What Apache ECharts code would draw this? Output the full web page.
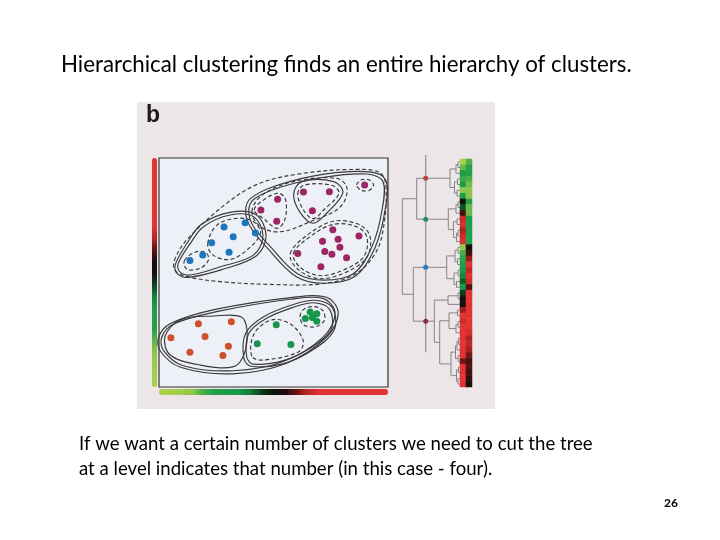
<!DOCTYPE html>
<html>
<head>
<meta charset="utf-8">
<script src="https://cdn.jsdelivr.net/npm/echarts@6/dist/echarts.min.js"></script>
<style>
html, body { margin: 0; padding: 0; background: #fff; }
#main { width: 720px; height: 540px; }
</style>
</head>
<body>
<div id="main"></div>
<script>
// scatter points, both features on a 0-100 scale
var orangePts = [[5.2,21.5],[17.2,27.6],[31.6,28.5],[20.1,22.0],[30.3,17.8],[13.5,15.2],[27.9,13.8]];
var greenPts = [[51.2,27.2],[42.9,18.9],[57.6,18.6],[66.0,32.8],[68.9,32.0],[63.9,29.9],[67.0,30.3],[68.9,28.7]];
var bluePts = [[13.5,55.2],[19.1,57.6],[23.0,63.0],[28.4,69.9],[32.4,65.6],[37.6,71.7],[42.1,67.2],[30.6,58.8]];
var purplePts = [[44.5,77.3],[51.8,82.0],[51.4,72.4],[63.1,85.1],[74.4,85.3],[67.0,77.0],[89.8,88.2],
  [75.9,68.7],[78.2,64.5],[87.3,65.9],[71.4,63.7],[79.0,61.0],[60.6,58.3],[72.4,59.2],[75.5,58.0],[81.9,56.4],[70.7,52.5]];

// cluster boundaries (same data units)
var ringTopAll = [[6.7,55.2],[12.1,64.2],[29.5,80.2],[44.1,89.0],[63.0,93.3],[84.9,95.0],[96.5,93.6],[99.1,87.5],
  [98.1,70.0],[94.5,58.4],[85.0,48.9],[70.5,45.0],[48.6,44.8],[26.8,46.0],[12.2,48.2],[7.1,50.8]];
var ringBlue = [[8.4,54.0],[13.7,62.7],[19.4,70.0],[31.0,75.1],[41.2,74.4],[45.4,66.0],[41.2,57.6],[26.8,52.5],[13.7,48.9],[9.0,50.4]];
var ringBlueBig = [[21.3,62.7],[25.3,70.7],[34.1,73.7],[41.3,72.2],[44.3,67.1],[38.4,59.8],[31.1,55.7],[23.6,57.6]];
var ringBlueSmall = [[11.1,55.2],[16.4,59.1],[20.8,58.4],[21.5,55.2],[17.9,51.8],[12.2,51.4]];
var ringPurpleOne = [[86.3,88.2],[88.2,90.4],[91.8,90.4],[93.7,88.2],[91.8,85.9],[88.2,85.9]];
var ringPurpleA = [[41.6,77.3],[45.7,81.7],[52.3,84.6],[55.3,81.7],[54.9,72.9],[51.5,69.3],[46.4,72.9]];
var ringPurpleB = [[60.6,84.3],[63.2,88.1],[75.4,88.1],[78.6,84.6],[71.9,77.3],[67.2,73.5],[62.9,77.6]];
var ringPurpleBOuter = [[58.8,84.3],[62.4,89.7],[76.3,89.7],[80.3,84.9],[73.4,76.1],[67.2,71.5],[61.4,76.6]];
var ringPurpleAB = [[40.6,76.6],[45.0,83.8],[58.8,89.7],[77.7,91.1],[82.1,86.8],[79.2,78.7],[66.1,72.2],[53.0,67.8],[44.3,70.0]];
var ringPurpleC = [[58.7,58.4],[65.9,65.6],[76.1,71.0],[86.3,70.0],[90.8,65.4],[89.4,56.9],[80.5,51.1],[70.3,48.6],[61.6,52.3]];
var ringPurple = [[39.2,76.6],[41.3,81.9],[53.0,87.2],[71.9,91.6],[90.8,93.0],[97.8,89.7],[97.4,77.3],[93.0,61.3],
  [85.0,49.6],[71.9,46.7],[60.3,49.6],[48.6,61.3],[41.3,70.0]];
var ringBottom = [[1.2,21.7],[6.4,27.5],[25.2,32.9],[57.2,38.3],[71.9,38.6],[76.9,32.2],[71.9,22.0],[54.3,11.1],[32.5,7.1],[10.6,9.3],[2.0,15.9]];
var ringOrange = [[2.6,22.0],[9.3,29.3],[23.9,31.0],[35.8,30.7],[38.4,24.9],[37.3,14.7],[32.6,8.9],[18.0,9.6],[4.9,14.0]];
var ringGreen = [[38.3,13.2],[39.2,23.4],[47.0,30.0],[58.7,34.8],[67.5,36.8],[74.5,33.9],[75.1,24.9],[65.9,16.9],[54.3,11.5],[41.2,10.0]];
var ringGreenA = [[40.5,13.5],[41.6,23.4],[49.3,29.3],[57.4,27.5],[62.9,20.5],[61.0,15.4],[45.7,11.8]];
var ringGreenB = [[61.6,30.7],[63.2,33.9],[67.5,35.1],[71.6,33.3],[72.2,29.0],[68.3,26.3],[63.2,27.1]];

var contours = [ringTopAll, ringBlue, ringBlueBig, ringBlueSmall, ringPurpleOne, ringPurpleA, ringPurpleB,
  ringPurpleBOuter, ringPurpleAB, ringPurpleC, ringPurple, ringBottom, ringOrange, ringGreen, ringGreenA, ringGreenB];
var contourKind = ['dash', 'solid2', 'dash', 'dash', 'dash', 'dash', 'dash',
  'solid', 'dash', 'dash2', 'solid2', 'solid2', 'solid', 'solid2', 'dash', 'dash'];

// dendrogram: leaves 0-6 orange, 7-14 green, 15-22 blue, 23-39 purple
// merges: [a, b, height], node ids continue from 40
var merges = [
  [0,1,2],[40,2,4],[3,4,2.5],[5,6,3],[42,43,5.5],[41,44,10],
  [7,8,2],[46,9,4],[10,11,3],[12,13,2],[49,14,3.5],[48,50,6.5],[47,51,11.7],
  [45,52,43.3],
  [15,16,2],[17,18,2.5],[54,55,5],[19,20,2],[21,22,3.5],[57,58,6],[56,59,13.3],
  [23,24,2],[61,25,12],
  [26,27,2.5],[28,29,2],[64,30,4],[63,65,11],
  [31,32,1.5],[67,33,3],[34,35,2],[68,69,4.5],[36,37,1.5],[38,39,2],[71,72,3.5],[70,73,9],
  [66,74,20.3],[62,75,25.7],[60,76,46.7],[53,77,57.7]
];
var clusterRoots = [45, 52, 60, 76];
var cutHeight = 34.3;
var cutSpan = [-0.7, 33.9];

var xBarColors = ['#b0d34a','#a8d048','#a0cd48','#8cc64a','#3aa84a','#20a04a','#1e9c48','#1a9646','#147a38','#0a3a18',
  '#111111','#1c0b0b','#6a1414','#c02828','#e03232','#e33434','#e33434','#e33434','#e33434','#e33434','#e33434'];
var yBarColors = ['#a8d048','#a4ce48','#9ccb48','#8cc64a','#60b64a','#28a24a','#20a04a','#1e9c48','#128040','#0a4020',
  '#111111','#1a0c0c','#601414','#b82626','#e03232','#e33434','#e33434','#e33434','#e33434','#e33434','#e33434'];

var nLeaf = 40;
var nodeY = [], nodeH = [];
for (var i = 0; i < nLeaf; i++) { nodeY[i] = i + 0.5; nodeH[i] = 0; }
var links = merges.map(function (m, k) {
  var id = nLeaf + k;
  nodeY[id] = (nodeY[m[0]] + nodeY[m[1]]) / 2;
  nodeH[id] = m[2];
  return [m[2], nodeY[m[0]], nodeY[m[1]], nodeH[m[0]], nodeH[m[1]]];
});
var cutDots = clusterRoots.map(function (id) { return [cutHeight, nodeY[id]]; });

var leafPts = orangePts.concat(greenPts, bluePts, purplePts);
var heatX = leafPts.map(function (p, i) { return [0, i, p[0]]; });
var heatY = leafPts.map(function (p, i) { return [1, i, p[1]]; });
var leafNames = leafPts.map(function (p, i) { return 'L' + i; });

function renderRing(params, api) {
  var idx = params.dataIndex;
  var pts = contours[idx].map(function (p) { return api.coord(p); });
  var kind = contourKind[idx];
  var dashed = kind.indexOf('dash') === 0;
  var style = { fill: 'none', stroke: '#3a3a3a', lineWidth: 1.15, lineDash: dashed ? [4, 2.5] : null };
  var children = [{ type: 'polygon', shape: { points: pts, smooth: 0.35 }, style: style }];
  if (kind.charAt(kind.length - 1) === '2') {
    var cx = 0, cy = 0;
    pts.forEach(function (p) { cx += p[0]; cy += p[1]; });
    cx /= pts.length; cy /= pts.length;
    var outer = pts.map(function (p) {
      var dx = p[0] - cx, dy = p[1] - cy, len = Math.sqrt(dx * dx + dy * dy) || 1;
      return [p[0] + dx / len * 3.2, p[1] + dy / len * 3.2];
    });
    children.push({ type: 'polygon', shape: { points: outer, smooth: 0.35 }, style: style });
  }
  return { type: 'group', children: children };
}

function renderLink(params, api) {
  var h = api.value(0), ya = api.value(1), yb = api.value(2), ha = api.value(3), hb = api.value(4);
  var pts = [api.coord([ha, ya]), api.coord([h, ya]), api.coord([h, yb]), api.coord([hb, yb])];
  return { type: 'polyline', shape: { points: pts }, style: { fill: 'none', stroke: '#858585', lineWidth: 1 } };
}

var chart = echarts.init(document.getElementById('main'));

var option = {
  animation: false,
  backgroundColor: '#ffffff',
  title: [
    { text: 'Hierarchical clustering finds an entire hierarchy of clusters.', left: 61, top: 54, padding: 0,
      textStyle: { fontFamily: 'Lato', fontSize: 22.3, fontWeight: 'normal', color: '#000' } },
    { text: 'If we want a certain number of clusters we need to cut the tree\nat a level indicates that number (in this case - four).',
      left: 79, top: 431, padding: 0,
      textStyle: { fontFamily: 'Lato', fontSize: 18.6, fontWeight: 'normal', color: '#000', lineHeight: 25 } },
    { text: '26', left: 664, top: 497, padding: 0, textStyle: { fontFamily: 'Lato', fontSize: 12, fontWeight: 'bold', color: '#000' } },
    { text: 'b', left: 146, top: 104, padding: 0, textStyle: { fontFamily: 'Liberation Sans', fontSize: 23, fontWeight: 'bold', color: '#1a1a1a' } }
  ],
  graphic: [
    { type: 'rect', z: -10, shape: { x: 137, y: 102, width: 358, height: 307 }, style: { fill: '#ede6e8' } }
  ],
  grid: [
    { left: 159, top: 158, width: 229, height: 229, show: true, backgroundColor: '#eef0f7', borderColor: '#333', borderWidth: 1.2 },
    { left: 400, top: 159, width: 60, height: 228 },
    { left: 460, top: 159, width: 12, height: 228 }
  ],
  xAxis: [
    { gridIndex: 0, type: 'value', min: 0, max: 100, show: false },
    { gridIndex: 1, type: 'value', min: 0, max: 60, inverse: true, show: false },
    { gridIndex: 2, type: 'category', data: ['x', 'y'], show: false }
  ],
  yAxis: [
    { gridIndex: 0, type: 'value', min: 0, max: 100, show: false },
    { gridIndex: 1, type: 'value', min: 0, max: 40, inverse: true, show: false },
    { gridIndex: 2, type: 'category', data: leafNames, inverse: true, show: false }
  ],
  visualMap: [
    { type: 'continuous', seriesIndex: 8, min: 0, max: 100, orient: 'horizontal', left: 159, top: 389,
      itemWidth: 6, itemHeight: 229, padding: 0, calculable: false, hoverLink: false, inRange: { color: xBarColors } },
    { type: 'continuous', seriesIndex: 9, min: 0, max: 100, orient: 'vertical', left: 152, top: 158,
      itemWidth: 5, itemHeight: 229, padding: 0, calculable: false, hoverLink: false, inRange: { color: yBarColors } }
  ],
  series: [
    { type: 'scatter', xAxisIndex: 0, yAxisIndex: 0, data: orangePts, symbolSize: 7, itemStyle: { color: '#cf4f2c', opacity: 1 } },
    { type: 'scatter', xAxisIndex: 0, yAxisIndex: 0, data: greenPts, symbolSize: 7, itemStyle: { color: '#17954c', opacity: 1 } },
    { type: 'scatter', xAxisIndex: 0, yAxisIndex: 0, data: bluePts, symbolSize: 7, itemStyle: { color: '#1c76ba', opacity: 1 } },
    { type: 'scatter', xAxisIndex: 0, yAxisIndex: 0, data: purplePts, symbolSize: 7, itemStyle: { color: '#9c2566', opacity: 1 } },
    { type: 'custom', xAxisIndex: 0, yAxisIndex: 0, silent: true, renderItem: renderRing,
      data: contours.map(function (c, i) { return [c[0][0], c[0][1]]; }), z: 1 },
    { type: 'custom', xAxisIndex: 1, yAxisIndex: 1, silent: true, renderItem: renderLink,
      data: links, encode: { x: [0, 3, 4], y: [1, 2] } },
    { type: 'line', xAxisIndex: 1, yAxisIndex: 1, clip: false, symbol: 'none', silent: true,
      data: [[cutHeight, cutSpan[0]], [cutHeight, cutSpan[1]]], lineStyle: { color: '#8c8c8c', width: 1.2 } },
    { type: 'scatter', xAxisIndex: 1, yAxisIndex: 1, symbolSize: 5, data: cutDots, z: 5,
      itemStyle: { opacity: 1, color: function (p) { return ['#c0453c', '#2a8a5a', '#2a78c0', '#8a2a5a'][p.dataIndex]; } } },
    { type: 'heatmap', xAxisIndex: 2, yAxisIndex: 2, data: heatX },
    { type: 'heatmap', xAxisIndex: 2, yAxisIndex: 2, data: heatY }
  ]
};

chart.setOption(option);
</script>
</body>
</html>
